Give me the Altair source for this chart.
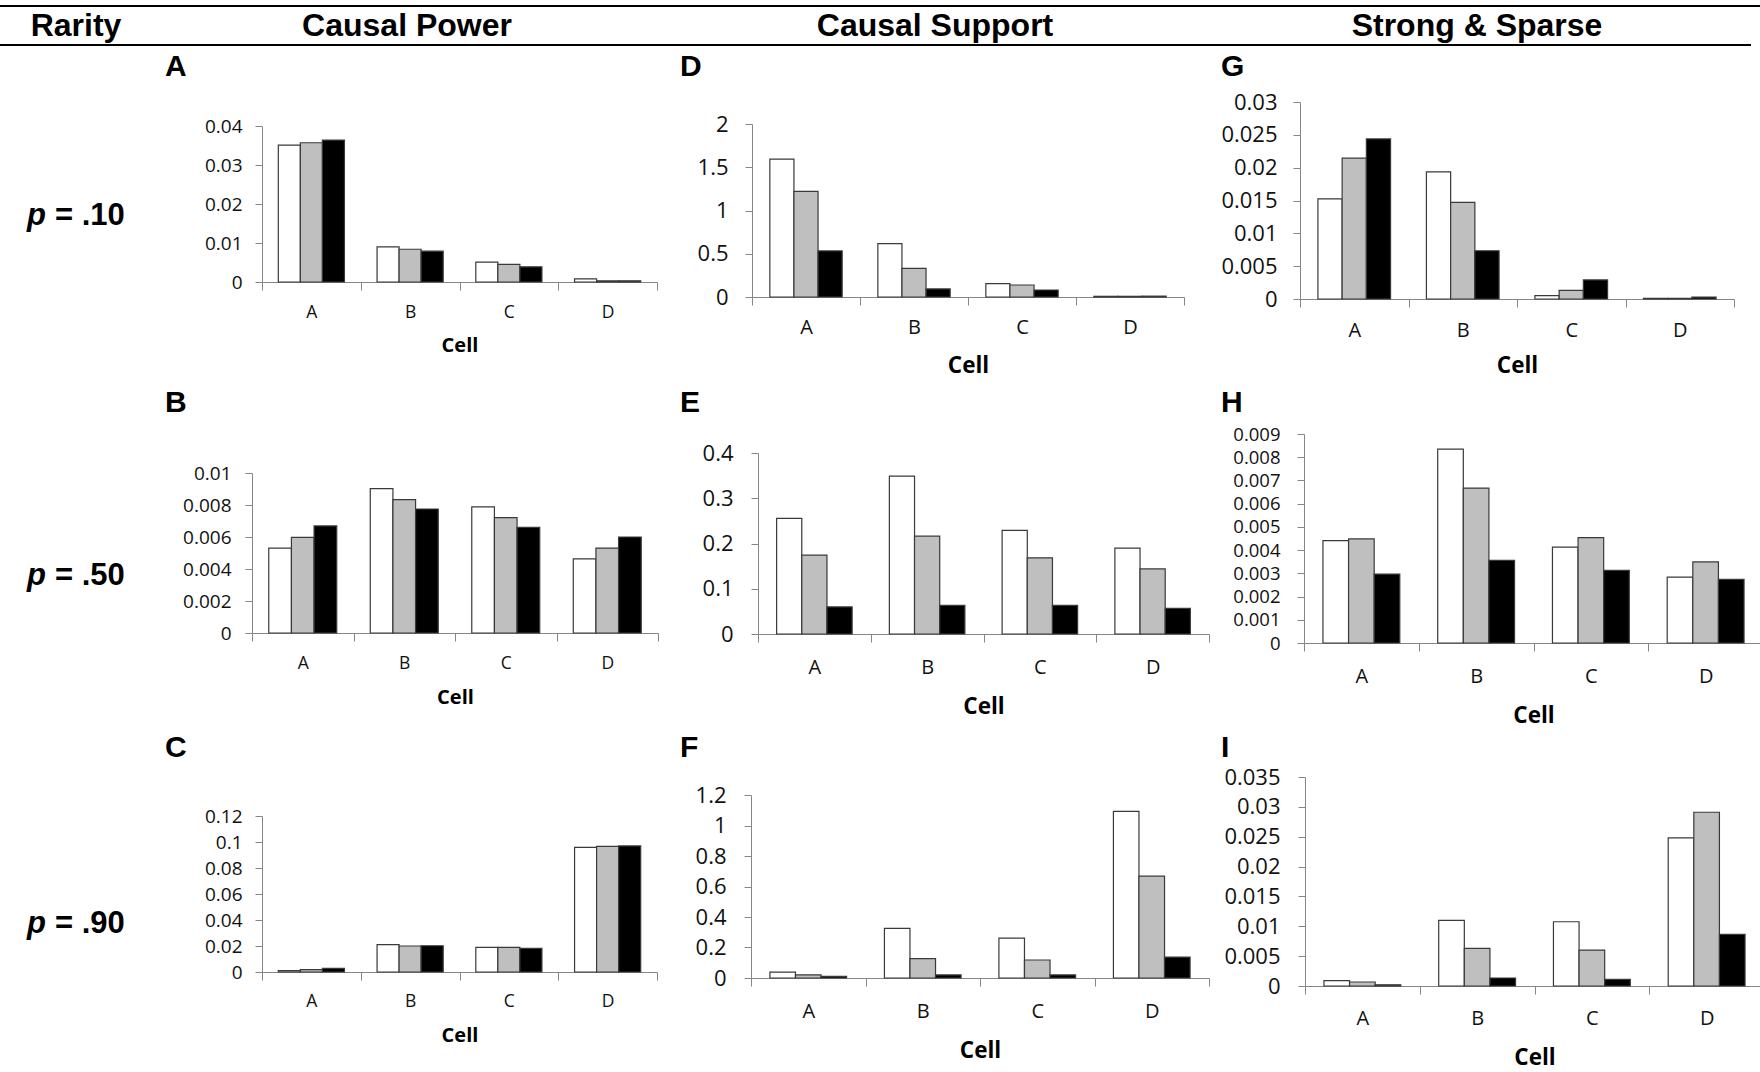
import altair as alt
import pandas as pd

W, H = 1760, 1072

# ---------------- data ----------------
cells = ["A", "B", "C", "D"]
series = ["Series 1", "Series 2", "Series 3"]
fills = ["#ffffff", "#bfbfbf", "#000000"]

col_headers = ["Rarity", "Causal Power", "Causal Support", "Strong & Sparse"]
row_p = ["p", "p", "p"]
row_vals = ["= .10", "= .50", "= .90"]
letters = ["A", "B", "C", "D", "E", "F", "G", "H", "I"]

# each panel: [series1 (white), series2 (gray), series3 (black)] over cells A-D
vals_A = [[0.0351, 0.0090, 0.0051, 0.0008],
          [0.0357, 0.0084, 0.0045, 0.0003],
          [0.0364, 0.0079, 0.0039, 0.0003]]
vals_B = [[0.00531, 0.00902, 0.00788, 0.00463],
          [0.00598, 0.00833, 0.00721, 0.00531],
          [0.00669, 0.00775, 0.00660, 0.00600]]
vals_C = [[0.0010, 0.0210, 0.0189, 0.0959],
          [0.0018, 0.0200, 0.0189, 0.0967],
          [0.0028, 0.0202, 0.0182, 0.0970]]
vals_D = [[1.595, 0.618, 0.154, 0.008],
          [1.220, 0.332, 0.139, 0.008],
          [0.533, 0.093, 0.081, 0.010]]
vals_E = [[0.2554, 0.3490, 0.2288, 0.1897],
          [0.1742, 0.2162, 0.1683, 0.1439],
          [0.0598, 0.0635, 0.0635, 0.0568]]
vals_F = [[0.039, 0.325, 0.262, 1.093],
          [0.020, 0.127, 0.118, 0.668],
          [0.011, 0.020, 0.020, 0.1375]]
vals_G = [[0.01525, 0.01936, 0.0005, 0.0001],
          [0.02144, 0.01470, 0.0013, 0.0001],
          [0.02437, 0.00735, 0.0029, 0.0003]]
vals_H = [[0.00441, 0.00835, 0.00413, 0.00284],
          [0.00448, 0.00667, 0.00454, 0.00349],
          [0.00297, 0.00356, 0.00313, 0.00274]]
vals_I = [[0.00089, 0.01098, 0.01076, 0.02480],
          [0.00067, 0.00630, 0.00602, 0.02910],
          [0.00020, 0.00134, 0.00111, 0.00864]]

ticks_A = [0, 0.01, 0.02, 0.03, 0.04]
ticks_B = [0, 0.002, 0.004, 0.006, 0.008, 0.01]
ticks_C = [0, 0.02, 0.04, 0.06, 0.08, 0.1, 0.12]
ticks_D = [0, 0.5, 1, 1.5, 2]
ticks_E = [0, 0.1, 0.2, 0.3, 0.4]
ticks_F = [0, 0.2, 0.4, 0.6, 0.8, 1, 1.2]
ticks_G = [0, 0.005, 0.01, 0.015, 0.02, 0.025, 0.03]
ticks_H = [0, 0.001, 0.002, 0.003, 0.004, 0.005, 0.006, 0.007, 0.008, 0.009]
ticks_I = [0, 0.005, 0.01, 0.015, 0.02, 0.025, 0.03, 0.035]

# ---------------- layout (pixels) ----------------
# x0, x1, y_top, y_zero, label_dy, title_dy, ylabel_pad
geom = {
    "A": (262, 657, 126, 282, 30, 63, 13),
    "B": (252, 658, 473, 633, 30, 64, 14),
    "C": (262, 657, 816, 972, 29, 63, 13),
    "D": (752, 1184, 124, 297, 30, 68, 17),
    "E": (758, 1209, 453, 634, 33, 72, 18),
    "F": (751, 1209, 795, 978, 33, 72, 18),
    "G": (1300, 1734, 102, 299, 31, 66, 16),
    "H": (1304, 1763, 434, 643, 33, 72, 17),
    "I": (1305, 1764, 777, 986, 32, 71, 18),
}
fonts_col1 = (19, 17.5, 20)
fonts_col23 = (22, 20, 22.5)
fonts_H = (18.5, 20, 22.5)

AX = "#868686"
LABEL_FONT = "Open Sans"
HEAD_FONT = "Liberation Sans"


def panel(key, vals, ticks, fs):
    x0, x1, yt, yb, lab_dy, title_dy, ypad = geom[key]
    ylab, xlab, tfs = fs
    rows = []
    for si, s in enumerate(series):
        for ci, c in enumerate(cells):
            rows.append({"cell": c, "series": s, "value": vals[si][ci]})
    df = pd.DataFrame(rows)
    return alt.Chart(df).mark_bar(stroke="#3a3a3a", strokeWidth=1.2).encode(
        x=alt.X(
            "cell:N", sort=cells,
            scale=alt.Scale(domain=cells, range=[x0, x1], paddingInner=0, paddingOuter=0),
            axis=alt.Axis(
                orient="bottom", offset=yb - H, title="Cell", tickBand="extent",
                labelAngle=0, domainColor=AX, tickColor=AX, tickSize=8,
                labelFont=LABEL_FONT, labelFontSize=xlab, labelColor="#111111",
                labelPadding=lab_dy - 8, labelBaseline="middle",
                titleFont=LABEL_FONT, titleFontSize=tfs, titleFontWeight="bold",
                titleColor="#000000", titleY=title_dy, titleBaseline="middle",
                grid=False,
            ),
        ),
        xOffset=alt.XOffset(
            "series:N", sort=series,
            scale=alt.Scale(domain=series, paddingInner=0, paddingOuter=0.74),
        ),
        y=alt.Y(
            "value:Q",
            scale=alt.Scale(domain=[0, ticks[-1]], range=[yb, yt], nice=False, zero=True),
            axis=alt.Axis(
                orient="left", offset=-x0, values=ticks, labelExpr="'' + datum.value",
                title=None, grid=False, domainColor=AX, tickColor=AX, tickSize=7,
                labelFont=LABEL_FONT, labelFontSize=ylab, labelColor="#111111",
                labelPadding=ypad, labelOverlap=False,
            ),
        ),
        fill=alt.Fill("series:N", scale=alt.Scale(domain=series, range=fills), legend=None),
    )


def text(txt, x, y, size, align="center", style="normal", weight="bold"):
    return alt.Chart(pd.DataFrame({"t": [txt]})).mark_text(
        font=HEAD_FONT, fontSize=size, fontWeight=weight, fontStyle=style,
        align=align, baseline="alphabetic", color="#000000",
    ).encode(x=alt.value(x), y=alt.value(y), text="t:N")


def hline(x1, x2, y):
    return alt.Chart(pd.DataFrame({"a": [0]})).mark_rule(color="#000000", strokeWidth=2).encode(
        x=alt.value(x1), x2=alt.value(x2), y=alt.value(y)
    )


layers = [
    panel("A", vals_A, ticks_A, fonts_col1),
    panel("B", vals_B, ticks_B, fonts_col1),
    panel("C", vals_C, ticks_C, fonts_col1),
    panel("D", vals_D, ticks_D, fonts_col23),
    panel("E", vals_E, ticks_E, fonts_col23),
    panel("F", vals_F, ticks_F, fonts_col23),
    panel("G", vals_G, ticks_G, fonts_col23),
    panel("H", vals_H, ticks_H, fonts_H),
    panel("I", vals_I, ticks_I, fonts_col23),
]

# header
layers.append(hline(0, W, 6))
layers.append(hline(0, 1751, 45))
for txt, cx in zip(col_headers, [76, 407, 935, 1477]):
    layers.append(text(txt, cx, 36, 32))

# row labels
for p, v, yb in zip(row_p, row_vals, [225, 585, 933]):
    layers.append(text(p, 27, yb, 31, align="left", style="italic"))
    layers.append(text(v, 55, yb, 31, align="left"))

# panel letters
letter_pos = {
    "A": (165, 76), "B": (165, 412), "C": (165, 757),
    "D": (680, 76), "E": (680, 412), "F": (680, 757),
    "G": (1221, 76), "H": (1221, 412), "I": (1221, 757),
}
for L in letters:
    lx, ly = letter_pos[L]
    layers.append(text(L, lx, ly, 30, align="left"))

chart = alt.layer(*layers).resolve_scale(
    x="independent", y="independent", xOffset="independent"
).resolve_axis(
    x="independent", y="independent"
).properties(
    width=W, height=H, autosize=alt.AutoSizeParams(type="none"), padding=0,
    background="#ffffff",
).configure_view(stroke=None)

chart.save("out.html", embed_options={"renderer": "svg", "actions": False})
